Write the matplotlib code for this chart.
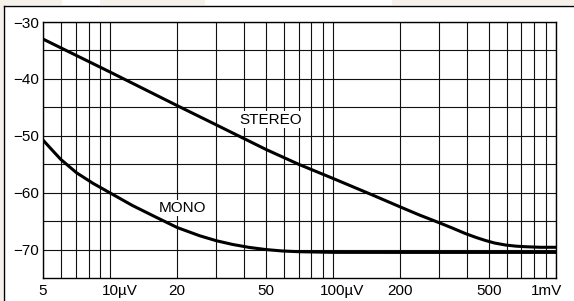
"""Noise level vs. input signal (STEREO / MONO), log frequency-like x axis in µV."""

import matplotlib
matplotlib.use("Agg")
import matplotlib.pyplot as plt
import matplotlib.transforms as mtransforms
from matplotlib.lines import Line2D
from matplotlib.patches import Rectangle

plt.rcParams['font.family'] = ['Liberation Sans', 'DejaVu Sans']

# ============================================================
# Data
# ============================================================
stereo_x = [5, 10, 20, 30, 50, 70, 100, 150, 200, 243, 300, 342, 393,
            440, 482, 530, 593, 660, 728, 850, 1000]
stereo_db = [-33.0, -38.8, -44.7, -48.1, -52.4, -55.0, -57.5, -60.4, -62.5,
             -63.9, -65.3, -66.2, -67.2, -67.9, -68.4, -68.85, -69.2,
             -69.4, -69.5, -69.6, -69.6]

mono_x = [5, 5.56, 6.0, 7.07, 8.39, 10, 12.6, 16.1, 20, 25.2, 29.9, 35.5,
          42.2, 50, 59.2, 70.5, 100, 200, 500, 1000]
mono_db = [-50.75, -52.73, -54.13, -56.5, -58.37, -60.05, -62.26, -64.33,
           -66.13, -67.57, -68.44, -69.11, -69.63, -70.0, -70.25, -70.38,
           -70.49, -70.5, -70.5, -70.5]

xticks = [5, 10, 20, 50, 100, 200, 500, 1000]
xticklabels = ["5", "10\u00b5V", "20", "50", "100\u00b5V", "200", "500", "1mV"]
xminor = [6, 7, 8, 9, 30, 40, 60, 70, 80, 90, 300, 400, 600, 700, 800, 900]
yticks = [-70, -60, -50, -40, -30]
yminor = [-65, -55, -45, -35]

# ============================================================
# Figure
# ============================================================
W, H = 574, 301
fig = plt.figure(figsize=(W / 100, H / 100), dpi=100)
fig.patch.set_facecolor("white")

# faint page strips at the top edge
for x0, x1 in [(0, 62), (100, 205), (392, 574)]:
    fig.add_artist(Rectangle((x0 / W, 1 - 5 / H), (x1 - x0) / W, 5 / H,
                             transform=fig.transFigure, facecolor="#f6f1ea",
                             edgecolor="none"))
fig.add_artist(Rectangle((0, 0), 3 / W, 1 - 5 / H, transform=fig.transFigure,
                         facecolor="#f6f1ea", edgecolor="none"))

# outer frame (top + left only, rest is cut off)
fig.add_artist(Line2D([4 / W, 1], [1 - 6 / H, 1 - 6 / H], color="black",
                      lw=1.0, transform=fig.transFigure))
fig.add_artist(Line2D([4 / W, 4 / W], [0, 1 - 6 / H], color="black",
                      lw=1.0, transform=fig.transFigure))

ax = fig.add_axes([43 / W, 1 - 278 / H, (556 - 43) / W, (278 - 22) / H])
ax.set_xscale("log")
ax.set_xlim(5, 1000)
ax.set_ylim(-75, -30)

ax.plot(stereo_x, stereo_db, color="black", lw=2.2, solid_capstyle="butt",
        solid_joinstyle="round", zorder=3)
ax.plot(mono_x, mono_db, color="black", lw=2.2, solid_capstyle="butt",
        solid_joinstyle="round", zorder=3)

ax.set_xticks(xticks)
ax.set_xticklabels(xticklabels)
ax.set_xticks(xminor, minor=True)
ax.set_xticklabels([], minor=True)
ax.set_yticks(yticks)
ax.set_yticklabels([f"\u2212{abs(v)}" for v in yticks])
ax.set_yticks(yminor, minor=True)

ax.tick_params(which="both", length=0)
ax.tick_params(axis="x", pad=4, labelsize=11)
ax.tick_params(axis="y", pad=3, labelsize=11)
ax.grid(True, which="both", color="#111111", lw=0.8)
ax.set_axisbelow(True)
for sp in ax.spines.values():
    sp.set_linewidth(1.0)

# keep the number centred on its grid line, unit hanging to the right
shifts = {"10\u00b5V": 6.8, "100\u00b5V": 6.8, "1mV": -6.5}
for lab in ax.get_xticklabels():
    dx = shifts.get(lab.get_text(), 0)
    if dx:
        off = mtransforms.ScaledTranslation(dx / 72, 0, fig.dpi_scale_trans)
        lab.set_transform(lab.get_transform() + off)

box = dict(facecolor="white", edgecolor="none", pad=1.0)
ax.text(52.3, -47.2, "STEREO", fontsize=11, ha="center", va="center", bbox=box, zorder=4)
ax.text(21.1, -62.7, "MONO", fontsize=11, ha="center", va="center", bbox=box, zorder=4)

fig.savefig("out.png", dpi=100)
